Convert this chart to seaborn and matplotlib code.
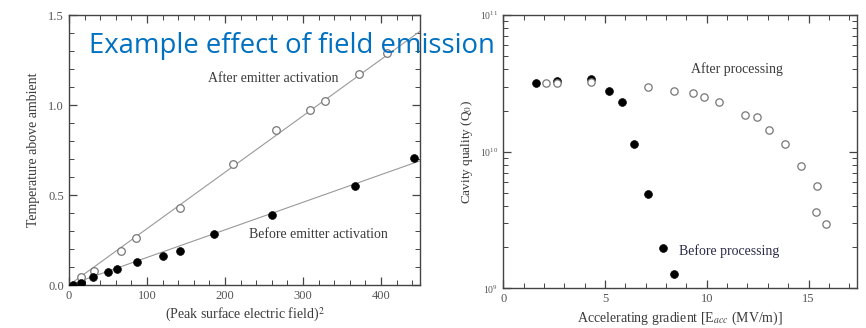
import matplotlib
matplotlib.use("Agg")
import matplotlib.pyplot as plt
import matplotlib.ticker as mticker
import numpy as np
import pandas as pd
import seaborn as sns

# left panel: temperature vs (peak surface field)^2
after_x = [15.8, 31.5, 66.6, 85.9, 141.8, 209.7, 265.8, 309.4, 327.7, 371.3, 407.7]
after_y = [0.046, 0.08, 0.19, 0.26, 0.43, 0.67, 0.86, 0.97, 1.02, 1.17, 1.29]
before_x = [4.6, 15.8, 31.0, 49.5, 61.0, 87.2, 120.0, 141.8, 186.3, 260.3, 366.7, 441.8]
before_y = [0.0, 0.013, 0.046, 0.072, 0.087, 0.128, 0.163, 0.187, 0.285, 0.39, 0.552, 0.707]
fit_x = [0, 450]
fit_after = [0, 1.41]
fit_before = [0, 0.69]

# right panel: Q0 vs accelerating gradient
proc_after_x = [2.1, 2.66, 4.31, 7.12, 8.4, 9.3, 9.84, 10.62, 11.89, 12.49, 13.08, 13.86, 14.63, 15.41, 15.35, 15.86]
proc_after_q = [3.16e10, 3.2e10, 3.25e10, 3.0e10, 2.8e10, 2.7e10, 2.5e10, 2.3e10, 1.87e10, 1.8e10, 1.44e10, 1.13e10, 7.8e9, 5.6e9, 3.6e9, 2.94e9]
proc_before_x = [1.61, 2.66, 4.31, 5.17, 5.84, 6.4, 7.12, 7.87, 8.4]
proc_before_q = [3.16e10, 3.3e10, 3.4e10, 2.8e10, 2.3e10, 1.14e10, 4.9e9, 1.96e9, 1.28e9]

sns.set_style("ticks")
plt.rcParams['font.family'] = ['Liberation Serif', 'DejaVu Serif']
plt.rcParams['mathtext.fontset'] = 'stix'

txt = '#3a3a3a'
edge = '#444444'

fig = plt.figure(figsize=(8.66, 3.28), dpi=100)
ax1 = fig.add_axes([0.0797, 0.131, 0.4053, 0.823])
ax2 = fig.add_axes([0.5812, 0.121, 0.4088, 0.833])

# --- left
sns.lineplot(x=fit_x, y=fit_after, ax=ax1, color='#999999', lw=0.8)
sns.lineplot(x=fit_x, y=fit_before, ax=ax1, color='#999999', lw=0.8)
sns.scatterplot(x=after_x, y=after_y, ax=ax1, s=30, facecolor='white', edgecolor='#777777', linewidth=0.9, zorder=3)
sns.scatterplot(x=before_x, y=before_y, ax=ax1, s=32, color='black', edgecolor='black', zorder=4)
ax1.set_xlim(0, 450)
ax1.set_ylim(0, 1.5)
ax1.xaxis.set_major_locator(mticker.MultipleLocator(100))
ax1.xaxis.set_minor_locator(mticker.MultipleLocator(20))
ax1.yaxis.set_major_locator(mticker.MultipleLocator(0.5))
ax1.yaxis.set_minor_locator(mticker.MultipleLocator(0.1))
ax1.yaxis.set_major_formatter(mticker.FormatStrFormatter('%.1f'))
ax1.set_xlabel('(Peak surface electric field)$^2$', fontsize=10, color=txt, labelpad=3)
ax1.set_ylabel('Temperature above ambient', fontsize=10, color=txt, labelpad=6)
ax1.text(262, 1.15, 'After emitter activation', ha='center', va='center', fontsize=10, color=txt)
ax1.text(320, 0.28, 'Before emitter activation', ha='center', va='center', fontsize=10, color=txt)

# --- right
sns.scatterplot(x=proc_before_x, y=proc_before_q, ax=ax2, s=32, color='black', edgecolor='black', zorder=3)
sns.scatterplot(x=proc_after_x, y=proc_after_q, ax=ax2, s=28, facecolor='white', edgecolor='#777777', linewidth=0.9, zorder=4)
ax2.set_yscale('log')
ax2.set_xlim(0, 17.4)
ax2.set_ylim(1e9, 1e11)
ax2.xaxis.set_major_locator(mticker.MultipleLocator(5))
ax2.xaxis.set_minor_locator(mticker.MultipleLocator(1))
ax2.set_xlabel('Accelerating gradient [E$_{acc}$ (MV/m)]', fontsize=10, color=txt, labelpad=3)
ax2.set_ylabel('Cavity quality (Q$_0$)', fontsize=9.5, color=txt, labelpad=4)
ax2.text(9.2, 4.0e10, 'After processing', ha='left', va='center', fontsize=10, color=txt)
ax2.text(8.64, 1.88e9, 'Before processing', ha='left', va='center', fontsize=10, color='#2a2a4a')

for ax in (ax1, ax2):
    for sp in ax.spines.values():
        sp.set_visible(True)
        sp.set_color(edge)
        sp.set_linewidth(1.0)
    ax.tick_params(which='both', direction='in', top=True, right=True, colors=edge,
                   labelcolor='#555555', labelsize=9)
    ax.tick_params(which='major', length=6, width=0.9)
    ax.tick_params(which='minor', length=3.5, width=0.7)
ax2.tick_params(axis='y', which='major', labelsize=7)

fig.text(89.3 / 866, 1 - 46 / 328, 'Example effect of field emission', family=['Open Sans', 'DejaVu Sans'],
         fontsize=19.8, color='#0070C0', ha='left', va='center')

fig.savefig('out.png', dpi=100)
